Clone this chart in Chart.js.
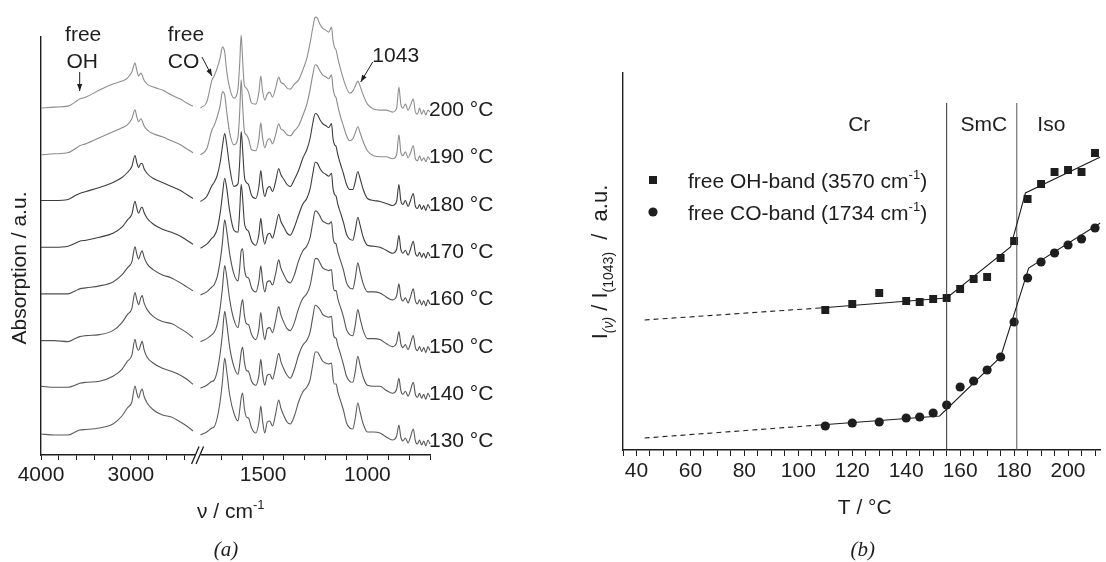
<!DOCTYPE html>
<html><head><meta charset="utf-8">
<script src="https://cdn.jsdelivr.net/npm/chart.js@4.4.1/dist/chart.umd.min.js"></script>
<style>
html,body{margin:0;padding:0;background:#fff;}
#wrap{position:relative;width:1106px;height:562px;background:#fff;}
#c1{position:absolute;left:0;top:0;}
#c2{position:absolute;left:553px;top:0;}
</style></head><body>
<div id="wrap">
<canvas id="c1" width="553" height="562"></canvas>
<canvas id="c2" width="553" height="562"></canvas>
</div>
<script>
// ================= Panel (a): IR spectra =================
const wnLeft = [4000,3850,3700,3620,3570,3500,3350,3200,3100,3040,2990,2955,2935,2915,2890,2875,2855,2820,2750,2650,2550,2450,2380,2310];
const wnRight = [1800,1770,1745,1735,1720,1705,1695,1684,1675,1660,1640,1620,1612,1605,1598,1590,1580,1570,1555,1535,
  1520,1511,1503,1492,1480,1468,1455,1440,1425,1415,1400,1385,1370,1350,1330,1310,1290,1275,1262,1250,
  1240,1228,1215,1200,1185,1172,1165,1158,1150,1142,1130,1115,1100,1085,1070,1058,1046,1035,1020,1000,
  970,940,910,880,860,849,840,830,818,805,795,780,770,760,750,740,730,720,710,700];
const tickWn = [4000,3800,3600,3400,3200,3000,2800,2600,2400,1700,1600,1500,1400,1300,1200,1100,1000,900,800,700];
const tickWnLabelled = [4000,3000,1500,1000];
const tempLabels = ['130 °C','140 °C','150 °C','160 °C','170 °C','180 °C','190 °C','200 °C'];
const traceBase = 0.20, traceStep = 0.467;   // vertical stacking of the spectra (a.u.)

const abs130L = [0.01,0.00,0.00,0.03,0.05,0.055,0.07,0.11,0.19,0.27,0.33,0.49,0.42,0.37,0.44,0.46,0.39,0.32,0.25,0.20,0.18,0.13,0.09,0.04];
const abs130R = [0.00,0.03,0.07,0.08,0.17,0.35,0.53,0.77,0.65,0.40,0.22,0.14,0.25,0.37,0.42,0.27,0.18,0.17,0.07,0.02,
  0.13,0.29,0.15,0.02,0.13,0.14,0.09,0.21,0.35,0.27,0.19,0.13,0.11,0.19,0.33,0.43,0.48,0.55,0.70,0.83,
  0.83,0.79,0.74,0.72,0.71,0.72,0.57,0.51,0.51,0.43,0.35,0.25,0.12,0.07,0.06,0.17,0.32,0.23,0.11,0.03,
  0.03,0.02,-0.02,-0.05,-0.01,0.10,-0.02,-0.06,-0.03,-0.08,-0.03,0.06,-0.06,-0.09,-0.05,-0.10,-0.06,-0.11,-0.05,-0.09];
const abs140L = [0.02,0.01,0.01,0.03,0.05,0.06,0.07,0.12,0.19,0.27,0.33,0.49,0.41,0.38,0.44,0.47,0.39,0.31,0.25,0.20,0.17,0.13,0.09,0.04];
const abs140R = [0.00,0.03,0.07,0.08,0.17,0.36,0.54,0.77,0.66,0.41,0.22,0.14,0.24,0.36,0.41,0.27,0.18,0.17,0.07,0.03,
  0.13,0.29,0.15,0.03,0.13,0.14,0.09,0.21,0.35,0.27,0.19,0.13,0.10,0.19,0.33,0.43,0.48,0.56,0.71,0.83,
  0.82,0.79,0.74,0.72,0.71,0.72,0.57,0.51,0.50,0.43,0.35,0.24,0.12,0.07,0.06,0.17,0.32,0.23,0.11,0.03,
  0.02,0.02,-0.02,-0.05,-0.01,0.10,-0.02,-0.06,-0.03,-0.08,-0.03,0.06,-0.06,-0.09,-0.05,-0.10,-0.06,-0.11,-0.05,-0.09];
const abs150L = [0.01,0.01,0.00,0.03,0.05,0.06,0.07,0.11,0.19,0.27,0.33,0.49,0.42,0.37,0.44,0.46,0.39,0.32,0.25,0.20,0.18,0.13,0.09,0.04];
const abs150R = [0.00,0.03,0.07,0.09,0.17,0.35,0.53,0.76,0.66,0.42,0.22,0.14,0.24,0.36,0.42,0.27,0.18,0.17,0.07,0.02,
  0.13,0.29,0.15,0.02,0.13,0.14,0.09,0.21,0.35,0.27,0.19,0.13,0.11,0.19,0.33,0.43,0.48,0.56,0.70,0.83,
  0.83,0.79,0.74,0.72,0.71,0.72,0.57,0.51,0.51,0.43,0.35,0.25,0.12,0.07,0.06,0.17,0.32,0.23,0.11,0.03,
  0.03,0.02,-0.02,-0.05,-0.01,0.10,-0.02,-0.06,-0.03,-0.08,-0.03,0.06,-0.06,-0.09,-0.05,-0.10,-0.06,-0.11,-0.05,-0.09];
const abs160L = [0.01,0.01,0.01,0.04,0.06,0.07,0.09,0.13,0.20,0.27,0.33,0.48,0.41,0.36,0.42,0.44,0.38,0.31,0.25,0.20,0.17,0.12,0.08,0.04];
const abs160R = [0.00,0.03,0.08,0.10,0.18,0.35,0.52,0.75,0.65,0.41,0.21,0.14,0.27,0.44,0.46,0.27,0.18,0.17,0.07,0.03,
  0.14,0.29,0.15,0.03,0.13,0.14,0.10,0.21,0.35,0.27,0.20,0.14,0.12,0.20,0.34,0.44,0.49,0.57,0.72,0.84,
  0.83,0.79,0.74,0.72,0.71,0.73,0.58,0.52,0.51,0.43,0.35,0.25,0.12,0.07,0.06,0.17,0.32,0.23,0.11,0.03,
  0.03,0.02,-0.02,-0.05,-0.01,0.11,-0.02,-0.06,-0.03,-0.08,-0.03,0.06,-0.06,-0.09,-0.05,-0.10,-0.06,-0.11,-0.05,-0.09];
const abs170L = [0.01,0.01,0.02,0.05,0.07,0.08,0.11,0.15,0.21,0.28,0.34,0.47,0.40,0.35,0.40,0.41,0.36,0.30,0.24,0.19,0.16,0.12,0.08,0.04];
const abs170R = [0.00,0.04,0.10,0.12,0.19,0.36,0.53,0.70,0.61,0.37,0.18,0.16,0.38,0.64,0.50,0.26,0.19,0.17,0.07,0.03,
  0.14,0.30,0.16,0.04,0.13,0.15,0.10,0.21,0.34,0.27,0.21,0.15,0.13,0.21,0.33,0.44,0.50,0.59,0.74,0.86,
  0.85,0.80,0.76,0.74,0.72,0.75,0.60,0.54,0.52,0.44,0.36,0.26,0.14,0.09,0.08,0.18,0.31,0.23,0.11,0.03,
  0.02,0.01,-0.02,-0.05,-0.01,0.13,-0.01,-0.05,-0.02,-0.07,-0.02,0.07,-0.05,-0.08,-0.04,-0.09,-0.05,-0.10,-0.04,-0.08];
const abs180L = [0.01,0.01,0.02,0.06,0.08,0.10,0.14,0.19,0.24,0.29,0.35,0.46,0.39,0.34,0.38,0.38,0.33,0.28,0.23,0.19,0.15,0.11,0.07,0.03];
const abs180R = [0.00,0.05,0.16,0.19,0.26,0.40,0.55,0.68,0.58,0.34,0.15,0.18,0.40,0.70,0.52,0.26,0.19,0.17,0.06,0.03,
  0.15,0.31,0.17,0.05,0.13,0.15,0.10,0.20,0.33,0.27,0.22,0.17,0.15,0.22,0.31,0.43,0.52,0.63,0.78,0.88,
  0.87,0.82,0.78,0.76,0.74,0.78,0.63,0.57,0.55,0.47,0.38,0.28,0.17,0.12,0.12,0.20,0.30,0.23,0.12,0.03,
  0.01,0.00,-0.02,-0.04,0.00,0.17,0.01,-0.03,0.01,-0.05,0.00,0.08,-0.05,-0.07,-0.03,-0.08,-0.04,-0.09,-0.03,-0.07];
const abs190L = [0.00,0.01,0.02,0.06,0.09,0.11,0.17,0.23,0.27,0.30,0.36,0.45,0.38,0.33,0.36,0.34,0.29,0.25,0.21,0.18,0.14,0.10,0.06,0.02];
const abs190R = [0.00,0.06,0.25,0.29,0.38,0.50,0.63,0.60,0.44,0.22,0.10,0.18,0.43,0.75,0.49,0.24,0.20,0.16,0.05,0.04,
  0.16,0.32,0.18,0.07,0.14,0.16,0.11,0.20,0.31,0.26,0.24,0.20,0.19,0.24,0.29,0.39,0.51,0.65,0.80,0.90,
  0.89,0.84,0.80,0.78,0.76,0.80,0.67,0.60,0.57,0.49,0.39,0.29,0.19,0.14,0.16,0.22,0.28,0.22,0.13,0.04,
  -0.01,-0.02,-0.02,-0.04,0.00,0.20,0.03,-0.01,0.03,-0.03,0.01,0.09,-0.04,-0.06,-0.01,-0.06,-0.03,-0.07,-0.02,-0.05];
const abs200L = [0.00,0.01,0.02,0.06,0.09,0.11,0.18,0.24,0.27,0.30,0.36,0.45,0.38,0.32,0.35,0.33,0.28,0.24,0.21,0.18,0.13,0.09,0.05,0.02];
const abs200R = [0.00,0.06,0.28,0.32,0.40,0.51,0.61,0.56,0.38,0.20,0.10,0.20,0.45,0.73,0.48,0.23,0.20,0.16,0.05,0.04,
  0.16,0.32,0.18,0.08,0.14,0.16,0.11,0.20,0.31,0.26,0.24,0.20,0.19,0.24,0.28,0.38,0.50,0.65,0.80,0.91,
  0.90,0.84,0.80,0.78,0.76,0.81,0.68,0.61,0.58,0.50,0.40,0.29,0.20,0.15,0.17,0.22,0.27,0.22,0.13,0.04,
  -0.01,-0.02,-0.02,-0.04,0.00,0.21,0.04,0.00,0.04,-0.02,0.02,0.09,-0.04,-0.06,0.00,-0.06,-0.02,-0.07,-0.02,-0.04];

const spectraL = [abs130L,abs140L,abs150L,abs160L,abs170L,abs180L,abs190L,abs200L];
const spectraR = [abs130R,abs140R,abs150R,abs160R,abs170R,abs180R,abs190R,abs200R];
const traceColors = ['#5c5c5c','#555','#555','#4f4f4f','#3c3c3c','#3c3c3c','#8a8a8a','#8e8e8e'];

// ================= Panel (b): band intensities =================
const tempsB = [110,120,130,140,145,150,155,160,165,170,175,180,185,190,195,200,205,210];
const ohBand = [1.40,1.46,1.57,1.49,1.48,1.51,1.52,1.61,1.71,1.73,1.92,2.09,2.51,2.66,2.78,2.80,2.78,2.97];
const coBand = [0.24,0.27,0.28,0.32,0.33,0.37,0.45,0.63,0.69,0.80,0.93,1.28,1.72,1.88,1.97,2.05,2.11,2.22];
const ohFitT = [108,155,178.7,184.2,212];
const ohFitV = [1.42,1.52,2.03,2.57,2.93];
const ohExtT = [43,108];
const ohExtV = [1.30,1.42];
const coFitT = [108,152.4,175,185.4,212];
const coFitV = [0.25,0.34,0.93,1.82,2.27];
const coExtT = [43,108];
const coExtV = [0.12,0.25];
const phaseT = [155,181];
const phaseTop = 3.47;
const phaseNames = ['Cr','SmC','Iso'];
const phaseLabelT = [122.6,168.8,193.8];
const phaseLabelV = 3.25;
const tickT = [35,40,45,50,55,60,65,70,75,80,85,90,95,100,105,110,115,120,125,130,135,140,145,150,155,160,165,170,175,180,185,190,195,200,205,210];
const tickTLabelled = [40,60,80,100,120,140,160,180,200];

const FONT = '"Liberation Sans", Arial, Helvetica, sans-serif';
const INK = '#1e1e1e';

// ---------- broken wavenumber axis ----------
const segA = {hi:4000, lo:2270, f0:0, f1:0.4};
const segB = {hi:1800, lo:700, f0:0.41, f1:1};
function wnFrac(v){
  if (v >= segA.lo) return segA.f0 + (segA.hi - v)/(segA.hi - segA.lo)*(segA.f1 - segA.f0);
  if (v <= segB.hi) return segB.f0 + (segB.hi - v)/(segB.hi - segB.lo)*(segB.f1 - segB.f0);
  return (segA.f1 + segB.f0)/2;
}
function fracWn(f){
  if (f <= segA.f1) return segA.hi - (f - segA.f0)/(segA.f1 - segA.f0)*(segA.hi - segA.lo);
  return segB.hi - (f - segB.f0)/(segB.f1 - segB.f0)*(segB.hi - segB.lo);
}
const LinScale = Chart.LinearScale || Chart.registry.getScale('linear');
class BrokenAxis extends LinScale {
  buildTicks(){ return tickWn.map(v => ({value: v})); }
  getPixelForValue(v){ return this.left + wnFrac(v)*this.width; }
  getValueForPixel(p){ return fracWn((p - this.left)/this.width); }
}
BrokenAxis.id = 'brokenWn';
BrokenAxis.defaults = LinScale.defaults;
Chart.register(BrokenAxis);

function buildTrace(i){
  const off = traceBase + i*traceStep;
  const pts = wnLeft.map((w,k) => ({x:w, y: spectraL[i][k] + off}));
  pts.push({x:2050, y:null});
  wnRight.forEach((w,k) => pts.push({x:w, y: spectraR[i][k] + off}));
  return pts;
}

function textRuns(ctx, runs, x, y){
  let cx = x;
  runs.forEach(r => {
    ctx.font = (r.style||'') + ' ' + r.size + 'px ' + FONT;
    ctx.fillText(r.t, cx, y + (r.dy||0));
    cx += ctx.measureText(r.t).width;
  });
  return cx - x;
}
function runsWidth(ctx, runs){
  let w = 0;
  runs.forEach(r => { ctx.font = (r.style||'') + ' ' + r.size + 'px ' + FONT; w += ctx.measureText(r.t).width; });
  return w;
}
function arrow(ctx, x0, y0, x1, y1){
  ctx.beginPath(); ctx.moveTo(x0,y0); ctx.lineTo(x1,y1); ctx.stroke();
  const a = Math.atan2(y1-y0, x1-x0), L = 7, W = 2.6;
  ctx.beginPath();
  ctx.moveTo(x1, y1);
  ctx.lineTo(x1 - L*Math.cos(a) + W*Math.sin(a), y1 - L*Math.sin(a) - W*Math.cos(a));
  ctx.lineTo(x1 - L*Math.cos(a) - W*Math.sin(a), y1 - L*Math.sin(a) + W*Math.cos(a));
  ctx.closePath(); ctx.fill();
}

const annotA = {
  id: 'annotA',
  afterDraw(chart){
    const {ctx, scales:{x, y}, chartArea:ca} = chart;
    ctx.save();
    ctx.fillStyle = INK; ctx.strokeStyle = INK;
    ctx.font = '21px ' + FONT;
    ctx.textBaseline = 'middle'; ctx.textAlign = 'left';
    tempLabels.forEach((t,i) => {
      ctx.fillText(t, ca.right - 1, y.getPixelForValue(traceBase + i*traceStep) + 6.5 - 0.6*i);
    });
    const bx = x.getPixelForValue(2035), by = ca.bottom;
    ctx.fillStyle = '#fff'; ctx.fillRect(bx - 3, by - 2, 5, 4);
    ctx.fillStyle = INK;
    ctx.lineWidth = 1.3;
    ctx.beginPath();
    ctx.moveTo(bx - 7, by + 9); ctx.lineTo(bx + 0.5, by - 8.5);
    ctx.moveTo(bx - 2.5, by + 9); ctx.lineTo(bx + 5, by - 8.5);
    ctx.stroke();
    ctx.textAlign = 'center';
    const xOH = x.getPixelForValue(3570);
    ctx.fillText('free', xOH + 3.5, ca.top - 1.5);
    ctx.fillText('OH', xOH + 2.5, ca.top + 25.5);
    ctx.lineWidth = 1;
    arrow(ctx, xOH, ca.top + 35, xOH, ca.top + 54);
    const xCO = x.getPixelForValue(1745);
    ctx.fillText('free', xCO - 26, ca.top - 1.5);
    ctx.fillText('CO', xCO - 28.5, ca.top + 25.5);
    arrow(ctx, xCO - 10, ca.top + 20, xCO, ca.top + 39);
    const x1043 = x.getPixelForValue(1032);
    ctx.fillText('1043', x1043 + 35, ca.top + 19);
    arrow(ctx, x1043 + 12, ca.top + 25, x1043, ca.top + 45);
    ctx.save();
    ctx.translate(20, (ca.top + ca.bottom)/2 + 22);
    ctx.rotate(-Math.PI/2);
    ctx.textAlign = 'center'; ctx.textBaseline = 'middle';
    ctx.font = '21px ' + FONT;
    ctx.fillText('Absorption / a.u.', 0, 0);
    ctx.restore();
    ctx.textAlign = 'left'; ctx.textBaseline = 'alphabetic';
    textRuns(ctx, [{t:'ν / cm', size:21}, {t:'-1', size:13, dy:-9}], 197, 518);
    ctx.textAlign = 'center';
    ctx.font = 'italic 21px "Liberation Serif", "Times New Roman", serif';
    ctx.fillText('(a)', 226, 556);
    ctx.restore();
  }
};

const datasetsA = tempLabels.map((t,i) => ({
  label: t,
  data: buildTrace(i),
  borderColor: traceColors[i],
  borderWidth: 1.1,
  pointRadius: 0,
  fill: false,
  spanGaps: false,
  cubicInterpolationMode: 'monotone',
  clip: false
}));

new Chart(document.getElementById('c1'), {
  type: 'line',
  data: { datasets: datasetsA },
  options: {
    responsive: false, animation: false, events: [],
    layout: { padding: { left: 41, top: 37, right: 123, bottom: 0 } },
    plugins: { legend: {display:false}, tooltip: {enabled:false} },
    scales: {
      x: {
        type: 'brokenWn', min: 700, max: 4000,
        afterFit: s => { s.height = 107; },
        grid: { drawOnChartArea: false, drawTicks: true, tickLength: 5, color: INK, lineWidth: 1 },
        border: { display: true, color: INK, width: 1.4 },
        ticks: {
          autoSkip: false, maxRotation: 0, padding: 3, color: INK,
          font: { family: FONT, size: 21 },
          callback: v => tickWnLabelled.includes(v) ? String(v) : ''
        }
      },
      y: {
        type: 'linear', min: 0, max: 4.18,
        afterFit: s => { s.width = 0; },
        ticks: { display: false },
        grid: { display: false, drawTicks: false },
        border: { display: true, color: INK, width: 1.4 }
      }
    }
  },
  plugins: [annotA]
});

// ================= Panel (b) chart =================
const annotB = {
  id: 'annotB',
  afterDraw(chart){
    const {ctx, scales:{x, y}, chartArea:ca} = chart;
    ctx.save();
    ctx.fillStyle = INK; ctx.strokeStyle = INK;
    ctx.font = '21px ' + FONT;
    ctx.textAlign = 'center'; ctx.textBaseline = 'middle';
    phaseNames.forEach((n,i) => ctx.fillText(n, x.getPixelForValue(phaseLabelT[i]), y.getPixelForValue(phaseLabelV)));
    const lx = ca.left + 30, ly1 = 180, ly2 = 212;
    ctx.fillRect(lx - 4, ly1 - 4, 8, 8);
    ctx.beginPath(); ctx.arc(lx, ly2, 4.6, 0, Math.PI*2); ctx.fill();
    ctx.textAlign = 'left'; ctx.textBaseline = 'alphabetic';
    textRuns(ctx, [{t:'free OH-band (3570 cm', size:21},{t:'-1', size:13, dy:-9},{t:')', size:21}], lx + 35, ly1 + 7.5);
    textRuns(ctx, [{t:'free CO-band (1734 cm', size:21},{t:'-1', size:13, dy:-9},{t:')', size:21}], lx + 35, ly2 + 7.5);
    ctx.save();
    ctx.translate(ca.left - 16, 262);
    ctx.rotate(-Math.PI/2);
    const yr = [{t:'I', size:22},{t:'(ν)', size:14, dy:6, style:'italic'},{t:' / I', size:22},{t:'(1043)', size:14, dy:6},{t:'  /  a.u.', size:22}];
    const w = runsWidth(ctx, yr);
    textRuns(ctx, yr, -w/2, 0);
    ctx.restore();
    ctx.textAlign = 'center'; ctx.textBaseline = 'middle';
    ctx.font = '21px ' + FONT;
    ctx.fillText('T / °C', (ca.left + ca.right)/2 + 3, 508);
    ctx.font = 'italic 21px "Liberation Serif", "Times New Roman", serif';
    ctx.fillText('(b)', (ca.left + ca.right)/2 + 1, 550);
    ctx.restore();
  }
};

const toPts = (xs, ys) => xs.map((v,i) => ({x:v, y:ys[i]}));
const fitStyle = { type:'line', borderColor: INK, borderWidth: 1.1, pointRadius: 0, fill:false, tension:0 };

new Chart(document.getElementById('c2'), {
  type: 'line',
  data: { datasets: [
    Object.assign({label:'OH ext', data: toPts(ohExtT, ohExtV), borderDash:[5,4]}, fitStyle),
    Object.assign({label:'CO ext', data: toPts(coExtT, coExtV), borderDash:[5,4]}, fitStyle),
    Object.assign({label:'OH fit', data: toPts(ohFitT, ohFitV)}, fitStyle),
    Object.assign({label:'CO fit', data: toPts(coFitT, coFitV)}, fitStyle),
    Object.assign({label:'Cr/SmC', data: [{x:phaseT[0], y:0},{x:phaseT[0], y:phaseTop}]}, fitStyle, {borderColor:'#333', borderWidth:1}),
    Object.assign({label:'SmC/Iso', data: [{x:phaseT[1], y:0},{x:phaseT[1], y:phaseTop}]}, fitStyle, {borderColor:'#555', borderWidth:1}),
    { type:'scatter', label:'free OH-band (3570 cm-1)', data: toPts(tempsB, ohBand), pointStyle:'rect', pointRadius:5.6,
      backgroundColor: INK, borderColor: INK, borderWidth:0 },
    { type:'scatter', label:'free CO-band (1734 cm-1)', data: toPts(tempsB, coBand), pointStyle:'circle', pointRadius:4.6,
      backgroundColor: INK, borderColor: INK, borderWidth:0 }
  ]},
  options: {
    responsive: false, animation: false, events: [],
    layout: { padding: { left: 70, top: 73, right: 0, bottom: 0 } },
    plugins: { legend: {display:false}, tooltip: {enabled:false} },
    scales: {
      x: {
        type: 'linear', min: 35, max: 212,
        afterBuildTicks: s => { s.ticks = tickT.map(v => ({value:v})); },
        afterFit: s => { s.height = 112; },
        grid: { drawOnChartArea: false, drawTicks: true, tickLength: 6, color: INK, lineWidth: 1 },
        border: { display: true, color: INK, width: 1.4 },
        ticks: {
          autoSkip: false, maxRotation: 0, padding: 3, color: INK,
          font: { family: FONT, size: 21 },
          callback: v => tickTLabelled.includes(v) ? String(v) : ''
        }
      },
      y: {
        type: 'linear', min: 0, max: 3.77,
        afterFit: s => { s.width = 0; },
        ticks: { display: false },
        grid: { display: false, drawTicks: false },
        border: { display: true, color: INK, width: 1.4 }
      }
    }
  },
  plugins: [annotB]
});
</script>
</body></html>
